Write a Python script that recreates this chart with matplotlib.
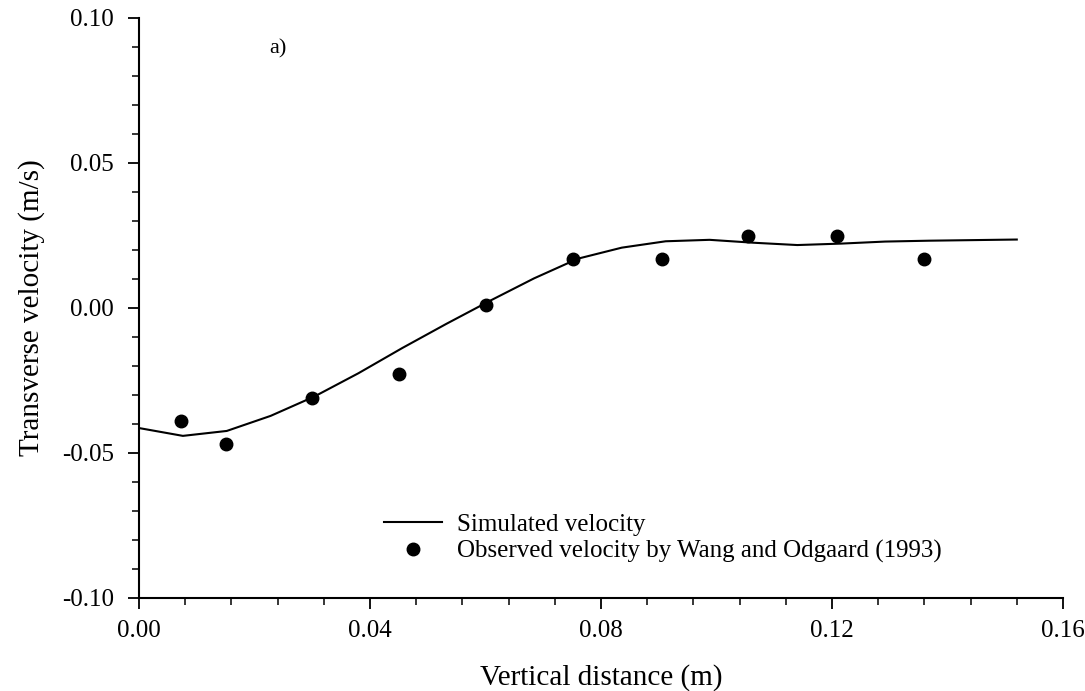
import numpy as np
import matplotlib
matplotlib.use("Agg")
from matplotlib import pyplot as plt
from matplotlib.ticker import MultipleLocator, FormatStrFormatter

# simulated profile
sim_x = [0.0, 0.0076, 0.0152, 0.0228, 0.0304, 0.0380, 0.0456, 0.0532, 0.0608,
         0.0684, 0.0760, 0.0836, 0.0912, 0.0988, 0.1064, 0.1140, 0.1216,
         0.1292, 0.1368, 0.1444, 0.1520]
sim_v = [-0.0414, -0.0441, -0.0424, -0.0372, -0.0305, -0.0225, -0.0138,
         -0.0055, 0.0025, 0.0102, 0.0170, 0.0208, 0.0230, 0.0235, 0.0225,
         0.0217, 0.0222, 0.0229, 0.0232, 0.0234, 0.0236]

# observed (Wang and Odgaard 1993)
obs_x = [0.0072, 0.0150, 0.0300, 0.0450, 0.0601, 0.0752, 0.0905, 0.1055,
         0.1208, 0.1359]
obs_v = [-0.0389, -0.0468, -0.0309, -0.0229, 0.0009, 0.0169, 0.0169, 0.0248,
         0.0248, 0.0169]

plt.rcParams["font.family"] = ["Liberation Serif", "DejaVu Serif"]

fig = plt.figure(figsize=(10.85, 6.91), dpi=100)
ax = fig.add_axes([0.1281, 0.1346, 0.8516, 0.8394])

ax.plot(sim_x, sim_v, color="black", lw=1.5, label="Simulated velocity")
ax.plot(obs_x, obs_v, "o", color="black", ms=9, label="Observed velocity by Wang and Odgaard (1993)")

ax.set_xlim(0, 0.16)
ax.set_ylim(-0.10, 0.10)
ax.xaxis.set_major_locator(MultipleLocator(0.04))
ax.xaxis.set_minor_locator(MultipleLocator(0.008))
ax.yaxis.set_major_locator(MultipleLocator(0.05))
ax.yaxis.set_minor_locator(MultipleLocator(0.01))
ax.xaxis.set_major_formatter(FormatStrFormatter("%.2f"))
ax.yaxis.set_major_formatter(FormatStrFormatter("%.2f"))

for s in ["top", "right"]:
    ax.spines[s].set_visible(False)
for s in ["left", "bottom"]:
    ax.spines[s].set_linewidth(1.5)
ax.tick_params(which="major", direction="out", length=8, width=1.3, labelsize=18)
ax.tick_params(axis="y", which="major", pad=10)
ax.tick_params(axis="x", which="major", pad=8)
ax.tick_params(which="minor", direction="out", length=5, width=1.1)

ax.set_xlabel("Vertical distance (m)", fontsize=21, labelpad=16)
ax.set_ylabel("Transverse velocity (m/s)", fontsize=21, labelpad=12)

ax.text(0.0225, 0.0895, "a)", fontsize=16, va="center", ha="left")

ax.legend(loc="lower left", bbox_to_anchor=(0.241, 0.022), frameon=False,
          fontsize=18, handlelength=2.3, handletextpad=0.6, numpoints=1,
          labelspacing=0.15)

fig.savefig("out.png", dpi=100)
